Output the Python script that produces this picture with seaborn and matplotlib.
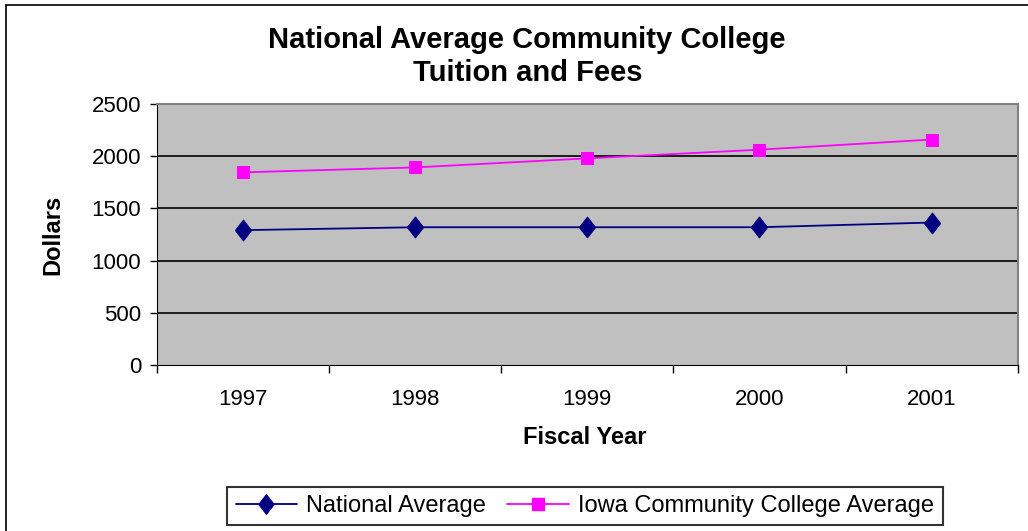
import numpy as np
import pandas as pd
import seaborn as sns
import matplotlib.pyplot as plt
from matplotlib.lines import Line2D
from matplotlib.path import Path

years = ['1997', '1998', '1999', '2000', '2001']
national = [1292, 1320, 1320, 1320, 1365]
iowa = [1846, 1893, 1980, 2063, 2160]

df = pd.DataFrame({
    'year': years * 2,
    'dollars': national + iowa,
    'series': ['National Average'] * 5 + ['Iowa Community College Average'] * 5,
})

sns.set_style('white')
plt.rcParams['font.family'] = ['Liberation Sans', 'DejaVu Sans']
plt.rcParams.update({'text.color': 'black', 'axes.labelcolor': 'black',
                     'xtick.color': 'black', 'ytick.color': 'black'})

fig = plt.figure(figsize=(10.28, 5.31), dpi=100)
ax = fig.add_axes([0.1527, 0.3126, 0.8373, 0.4914])
ax.set_facecolor('#C0C0C0')

# outer chart border
fig.add_artist(Line2D([0.0058, 0.0058], [0, 1 - 5 / 531], color='black', lw=1.2, transform=fig.transFigure))
fig.add_artist(Line2D([0.0058, 1], [1 - 5 / 531, 1 - 5 / 531], color='black', lw=1.2, transform=fig.transFigure))

colors = {'National Average': '#000080', 'Iowa Community College Average': '#FF00FF'}
# tall diamond like the excel one
diamond = Path([(0, 1), (0.78, 0), (0, -1), (-0.78, 0), (0, 1)],
               [Path.MOVETO, Path.LINETO, Path.LINETO, Path.LINETO, Path.CLOSEPOLY])

for name in ['National Average', 'Iowa Community College Average']:
    sub = df[df['series'] == name]
    sns.lineplot(data=sub, x='year', y='dollars', ax=ax, color=colors[name], lw=1.3,
                 marker='o', markeredgecolor=colors[name], legend=False, zorder=3)

ax.lines[0].set_marker(diamond)
ax.lines[0].set_markersize(15)
ax.lines[1].set_marker('s')
ax.lines[1].set_markersize(9)

ax.set_ylim(0, 2500)
ax.set_xlim(-0.5, 4.5)
ax.set_yticks([0, 500, 1000, 1500, 2000, 2500])
for v in [500, 1000, 1500, 2000]:
    ax.axhline(v, color='black', lw=1.2, zorder=1)

ax.set_xticks(np.arange(len(years)))
ax.set_xticklabels(years)
ax.set_xticks(np.arange(-0.5, 5, 1), minor=True)
ax.tick_params(axis='x', which='major', length=0, pad=17, labelsize=16)
ax.tick_params(axis='x', which='minor', length=6, width=1, color='black', direction='out')
ax.tick_params(axis='y', length=5, width=1, color='black', direction='out', labelsize=16, pad=6.5)
ax.yaxis.set_ticks_position('left')
ax.xaxis.set_ticks_position('bottom')

for side in ['top', 'right']:
    ax.spines[side].set_color('#808080')
    ax.spines[side].set_linewidth(1.5)
ax.spines['left'].set_color('black')
ax.spines['bottom'].set_color('black')

ax.set_xlabel('Fiscal Year', fontsize=17, fontweight='bold')
ax.set_ylabel('Dollars', fontsize=17, fontweight='bold')
ax.xaxis.set_label_coords((585 - 157) / 861, (365 - 438) / 261)
ax.xaxis.label.set_va('center')
ax.yaxis.set_label_coords((53 - 157) / 861, 0.5)
ax.yaxis.label.set_va('center')

fig.text(0.512, 1 - 40 / 531, 'National Average Community College', fontsize=21,
         fontweight='bold', ha='center', va='center')
fig.text(0.513, 1 - 73 / 531, 'Tuition and Fees', fontsize=21,
         fontweight='bold', ha='center', va='center')

handles = [Line2D([], [], color='#000080', lw=1.3, marker=diamond, markersize=14),
           Line2D([], [], color='#FF00FF', lw=1.3, marker='s', markersize=8)]
leg = fig.legend(handles, ['National Average', 'Iowa Community College Average'],
                 loc='center', bbox_to_anchor=(0.569, 1 - 506 / 531), ncol=2, fontsize=17,
                 frameon=True, fancybox=False, edgecolor='black', handlelength=2.6,
                 columnspacing=0.9, handletextpad=0.4, borderpad=0.35)
leg.get_frame().set_linewidth(1.5)

fig.savefig('out.png', dpi=100)
